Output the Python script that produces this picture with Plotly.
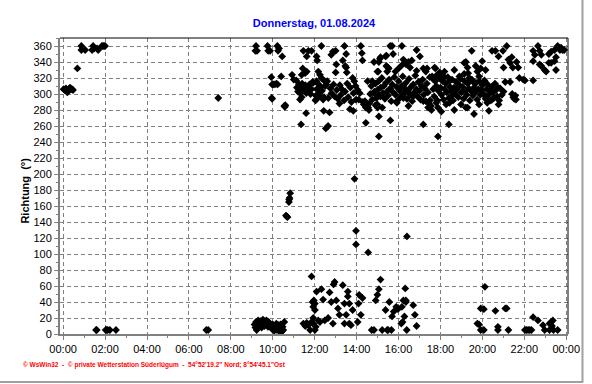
import pandas as pd
import plotly.graph_objects as go

DAY = pd.Timestamp("2024-08-01")
TITLE = "Donnerstag, 01.08.2024"
Y_LABEL = "Richtung\u00a0 (°)"
FOOTER = "© WsWin32\u00a0 -\u00a0 © private Wetterstation Süderlügum\u00a0 -\u00a0 54°52'19.2\" Nord; 8°54'45.1\"Ost"

# ---- data: time of day in decimal hours, wind direction in degrees ----
night_hours = [0.02, 0.08, 0.13, 0.17, 0.2, 0.25, 0.3, 0.33, 0.37, 0.42, 0.47, 0.68, 0.87, 0.87, 1.05,
               1.38, 1.43, 1.48, 1.62, 1.67, 1.85, 1.9, 1.95, 2.0, 1.57, 1.6, 2.03, 2.08, 2.13, 2.23,
               2.52, 6.83, 6.92, 7.4]
night_dirs = [306, 305, 307, 304, 302, 305, 307, 308, 306, 306, 305, 332, 360, 355, 355,
              355, 360, 357, 357, 355, 360, 360, 360, 360, 5, 5, 5, 5, 5, 5,
              5, 5, 5, 295]

calm_hours = [9.13, 9.17, 9.2, 9.23, 9.27, 9.3, 9.33, 9.37, 9.4, 9.43, 9.47, 9.5, 9.53, 9.57, 9.6,
              9.63, 9.67, 9.7, 9.73, 9.77, 9.8, 9.83, 9.87, 9.93, 9.97, 10.0, 10.03, 10.07, 10.1,
              10.13, 10.17, 10.2, 10.23, 10.27, 10.3, 10.33, 10.37, 10.4, 10.43, 10.47, 10.5, 10.55]
calm_dirs = [12, 8, 15, 5, 13, 17, 10, 14, 16, 12, 8, 15, 18, 13, 10,
             16, 14, 17, 12, 9, 15, 11, 13, 10, 6, 12, 8, 4, 10,
             7, 13, 5, 9, 11, 4, 8, 12, 6, 3, 9, 5, 15]

morning_hours = [9.17, 9.2, 9.25, 9.75, 9.78, 9.87, 10.22, 10.25, 10.3, 10.45, 9.97, 10.03, 10.1,
                 10.17, 10.23, 9.93, 9.95, 9.97, 10.4, 10.55, 10.58, 10.6, 10.63, 10.67, 10.7,
                 10.77, 10.78, 10.8, 10.83]
morning_dirs = [354, 360, 354, 360, 354, 354, 360, 354, 357, 347, 312, 312, 312,
                313, 312, 321, 295, 294, 322, 285, 284, 286, 148, 147, 146,
                165, 168, 170, 176]

scatter_hours = [10.92, 11.0, 11.12, 11.38, 11.43, 11.62, 11.46, 11.7, 11.85, 11.62, 11.54, 11.3, 11.38,
                 11.59, 11.35, 12.04, 12.09, 12.12, 12.32, 12.17, 12.25, 12.32, 12.09, 11.93, 12.06,
                 12.25, 12.4, 12.48, 12.56, 12.43, 12.71, 12.53, 12.64, 12.87, 13.0, 12.79, 13.03,
                 13.0, 13.34, 13.46, 13.53, 13.42, 13.5, 13.5, 13.18, 13.68, 13.84, 13.81, 13.89,
                 13.97, 14.2, 14.25, 14.28, 14.36, 14.44, 14.59, 14.44, 14.75, 14.83, 14.52, 14.83,
                 15.06, 15.06, 15.0, 14.9, 15.11, 15.14, 15.38, 15.6, 15.03, 15.5, 15.61, 15.69,
                 16.16, 15.74, 15.42, 15.06, 15.42, 15.53, 15.46, 14.99, 15.85, 16.0, 16.16, 16.23,
                 16.47, 16.36, 16.63, 16.55, 16.86, 17.02, 16.86, 17.18, 17.3, 17.36, 17.72, 17.8,
                 17.64, 17.49, 17.96, 18.04, 18.19, 18.43, 18.66, 18.9, 19.13, 19.21, 19.29, 19.37,
                 19.49, 14.91, 15.14, 14.99, 15.22, 15.92, 16.23, 16.47, 16.7, 17.18, 17.41, 17.57,
                 17.8, 17.88, 18.04, 18.27, 18.43, 18.66, 18.98, 19.21, 18.58, 17.18, 18.4, 17.88,
                 20.62, 20.77, 20.98, 21.16, 21.4, 21.63, 21.71, 21.32, 21.45, 21.01, 19.32, 19.45,
                 19.68, 19.76, 19.92, 19.99, 20.15, 19.84, 19.6, 20.85, 21.01, 20.93, 21.76, 21.95,
                 22.03, 22.42, 21.09, 21.32, 20.77, 20.23, 20.31, 19.29, 19.6, 19.84, 20.46, 20.46,
                 21.24, 18.19, 17.76, 19.13, 13.9, 13.97, 13.97, 14.55, 16.4]
scatter_dirs = [324, 318, 317, 324, 332, 328, 354, 354, 354, 347, 326, 293, 296,
                276, 262, 292, 347, 342, 360, 328, 324, 320, 316, 314, 293,
                297, 293, 316, 312, 279, 277, 257, 260, 353, 354, 349, 337,
                327, 342, 335, 327, 360, 350, 333, 288, 281, 279, 320, 316,
                293, 360, 351, 342, 287, 283, 280, 264, 316, 301, 316, 340,
                247, 272, 283, 286, 344, 346, 347, 360, 328, 333, 267, 360,
                360, 350, 348, 340, 335, 332, 328, 328, 328, 332, 336, 343,
                340, 337, 342, 333, 355, 347, 329, 332, 328, 332, 333, 323,
                319, 321, 327, 324, 321, 316, 330, 322, 325, 340, 333, 320,
                354, 301, 297, 287, 283, 289, 295, 285, 297, 291, 283, 280,
                289, 283, 278, 287, 289, 280, 287, 283, 299, 262, 262, 247,
                354, 347, 354, 360, 346, 340, 333, 339, 333, 333, 326, 318,
                335, 328, 332, 341, 330, 322, 314, 307, 303, 299, 320, 318,
                317, 317, 315, 315, 287, 289, 279, 283, 275, 287, 293, 354,
                343, 328, 332, 339, 194, 129, 112, 102, 122]

band_hours = [11.15, 11.2, 11.25, 11.3, 11.35, 11.4, 11.45, 11.5, 11.55, 11.6, 11.65, 11.7, 11.75, 11.8,
              11.85, 11.9, 12.05, 12.1, 12.15, 12.2, 12.3, 12.35, 12.45, 12.5, 12.6, 12.65, 12.75,
              12.8, 12.9, 12.95, 13.05, 13.1, 13.2, 13.25, 13.3, 13.4, 13.45, 13.55, 13.6, 13.7,
              13.75, 13.85, 13.95, 14.05, 14.1, 14.15, 14.3, 14.35, 14.4, 14.5, 14.55, 14.6, 14.65,
              14.7, 14.75, 14.85, 14.9, 14.95, 15.0, 15.05, 15.1, 15.15, 15.2, 15.25, 15.3, 15.35,
              15.4, 15.45, 15.5, 15.55, 15.6, 15.65, 15.7, 15.75, 15.8, 15.85, 15.9, 15.95, 16.0,
              16.05, 16.1, 16.15, 16.2, 16.25, 16.3, 16.35, 16.4, 16.45, 16.5, 16.55, 16.6, 16.65,
              16.7, 16.75, 16.8, 16.85, 16.9, 16.95, 17.0, 17.05, 17.1, 17.15, 17.2, 17.25, 17.3,
              17.35, 17.4, 17.45, 17.5, 17.55, 17.6, 17.65, 17.7, 17.75, 17.8, 17.85, 17.9, 17.95,
              18.0, 18.05, 18.1, 18.15, 18.2, 18.25, 18.3, 18.35, 18.4, 18.45, 18.5, 18.55, 18.6,
              18.65, 18.7, 18.75, 18.8, 18.85, 18.9, 18.95, 19.0, 19.05, 19.1, 19.15, 19.2, 19.25,
              19.3, 19.35, 19.4, 19.45, 19.5, 19.55, 19.6, 19.65, 19.7, 19.75, 19.8, 19.85, 19.9,
              19.95, 20.0, 20.05, 20.1, 20.15, 20.2, 20.25, 20.3, 20.35, 20.4, 20.45, 20.5, 20.55,
              20.6, 20.65, 20.7, 20.75, 20.8, 21.42, 21.47, 21.52, 21.57, 21.6]
band_dirs = [308, 303, 312, 301, 307, 313, 304, 306, 311, 301, 307, 304, 312, 300,
             306, 315, 298, 306, 313, 300, 309, 304, 296, 310, 316, 295, 307,
             301, 312, 297, 305, 294, 311, 299, 306, 292, 303, 313, 296, 308,
             290, 301, 310, 305, 293, 301, 290, 287, 291, 284, 283, 288, 300,
             310, 293, 303, 313, 295, 305, 316, 298, 308, 320, 301, 310, 294,
             314, 303, 298, 318, 307, 291, 312, 302, 321, 299, 309, 292, 316,
             304, 296, 310, 322, 300, 307, 314, 294, 304, 319, 299, 309, 291,
             312, 302, 323, 306, 297, 315, 304, 293, 310, 318, 299, 307, 291,
             313, 302, 288, 292, 285, 322, 306, 297, 316, 310, 292, 304, 320,
             308, 299, 316, 293, 306, 313, 302, 321, 295, 309, 304, 318, 292,
             308, 300, 315, 306, 296, 311, 319, 302, 309, 294, 316, 305, 299,
             313, 307, 292, 304, 318, 298, 308, 302, 314, 293, 306, 316, 299,
             305, 311, 300, 317, 294, 306, 312, 299, 304, 292, 309, 302, 295,
             313, 305, 297, 308, 292, 300, 296, 294, 298, 293]

late_hours = [22.42, 22.65, 22.73, 22.5, 22.81, 23.17, 23.28, 23.44, 23.59, 23.7, 23.83, 22.73, 22.81,
              23.04, 22.97, 23.17, 23.28, 23.44, 23.51, 23.51, 22.42, 23.9, 23.75]
late_dirs = [354, 360, 354, 349, 349, 350, 353, 355, 360, 355, 355, 337, 335,
             328, 330, 339, 339, 341, 346, 330, 341, 355, 358]

low_hours = [11.46, 11.62, 11.7, 11.78, 11.85, 12.01, 11.85, 11.93, 12.01, 11.93, 12.01, 11.9, 11.96,
             12.09, 12.17, 12.25, 12.32, 12.4, 12.48, 12.64, 12.71, 12.79, 12.87, 12.9, 12.95, 13.03,
             13.11, 13.18, 13.34, 13.42, 13.5, 13.58, 13.58, 13.65, 13.65, 13.42, 13.73, 13.81, 14.05,
             14.09, 14.12, 14.2, 14.28, 14.72, 14.83, 14.91, 14.99, 15.06, 15.14, 15.22, 15.46, 15.56,
             15.38, 15.77, 15.69, 11.93, 11.55, 11.65, 12.05, 15.66, 15.5, 15.89, 15.97, 16.16, 16.23,
             16.32, 16.35, 16.28, 16.19, 16.13, 16.39, 16.7, 16.78, 16.86, 16.35, 19.76, 19.84, 19.92,
             20.07, 19.92, 20.07, 20.12, 20.62, 20.74, 20.74, 21.09, 21.16, 21.24, 22.03, 22.18, 22.34,
             22.42, 22.65, 22.89, 22.97, 23.2, 23.28, 23.36, 23.39, 23.2, 23.59, 22.1, 22.26, 23.32]
low_dirs = [13, 14, 11, 5, 72, 5, 15, 20, 30, 34, 38, 40, 42,
            53, 17, 15, 56, 43, 17, 20, 52, 40, 13, 62, 65, 42,
            32, 24, 61, 38, 24, 47, 53, 38, 13, 13, 11, 30, 15,
            38, 49, 24, 45, 5, 5, 42, 49, 56, 68, 5, 5, 40,
            30, 28, 22, 13, 10, 12, 9, 5, 5, 34, 31, 34, 42,
            57, 40, 22, 15, 13, 5, 36, 24, 10, 42, 13, 12, 5,
            5, 32, 31, 59, 29, 9, 5, 32, 32, 5, 5, 5, 5,
            21, 17, 11, 5, 13, 15, 17, 5, 5, 5, 5, 5, 10]

all_hours = night_hours + calm_hours + morning_hours + scatter_hours + band_hours + late_hours + low_hours
all_dirs = night_dirs + calm_dirs + morning_dirs + scatter_dirs + band_dirs + late_dirs + low_dirs
times = [DAY + pd.Timedelta(hours=h) for h in all_hours]

fig = go.Figure()
fig.add_trace(go.Scatter(
    x=times, y=all_dirs, mode="markers",
    marker=dict(symbol="diamond", size=6, color="black", line=dict(width=0)),
    cliponaxis=False, showlegend=False, hoverinfo="skip"))

grid = dict(showgrid=True, gridcolor="#808080", gridwidth=1, griddash="4px,3px",
            showline=True, linecolor="#808080", linewidth=2, zeroline=False,
            ticks="outside", tickcolor="#808080", ticklen=4,
            tickfont=dict(family="Liberation Sans, Arial, sans-serif", size=11, color="black"))

fig.update_xaxes(type="date",
                 range=[DAY - pd.Timedelta(minutes=9), DAY + pd.Timedelta(hours=24, minutes=5)],
                 tick0=DAY, dtick=7200000, tickformat="%H:%M",
                 minor=dict(dtick=3600000, ticks="outside", ticklen=2, tickcolor="#808080", showgrid=False),
                 **grid)
fig.update_yaxes(range=[0, 370], tick0=0, dtick=20,
                 minor=dict(dtick=10, ticks="outside", ticklen=2, tickcolor="#808080", showgrid=False),
                 **grid)

fig.update_layout(
    width=592, height=384,
    margin=dict(l=60, r=18, t=38, b=50),
    paper_bgcolor="white", plot_bgcolor="white",
    title=dict(text="<b>" + TITLE + "</b>", x=0.5, xref="paper", xanchor="center",
               y=1 - 23 / 384, yref="container", yanchor="middle",
               font=dict(family="Liberation Sans, Arial, sans-serif", size=11, color="#0000FF")),
    shapes=[
        dict(type="line", xref="paper", yref="paper", x0=0, x1=1, y0=1, y1=1,
             line=dict(color="black", width=1)),
        dict(type="line", xref="paper", yref="paper", x0=1, x1=1, y0=0, y1=1,
             line=dict(color="black", width=1)),
        dict(type="line", xref="paper", yref="paper", x0=-0.12, x1=1.03, y0=-0.162, y1=-0.162,
             line=dict(color="#a0a0a0", width=2)),
        dict(type="line", xref="paper", yref="paper", x0=1.0285, x1=1.0285, y0=-0.162, y1=1.13,
             line=dict(color="#a0a0a0", width=2)),
    ],
    annotations=[
        dict(text="<b>" + Y_LABEL + "</b>", textangle=-90, xref="paper", yref="paper",
             x=-0.068, y=0.486, xanchor="center", yanchor="middle", showarrow=False,
             font=dict(family="Liberation Sans, Arial, sans-serif", size=11, color="black")),
        dict(text="<b>" + FOOTER + "</b>", xref="paper", yref="paper",
             x=-0.0777, y=-0.1047, xanchor="left", yanchor="middle", showarrow=False,
             font=dict(family="Liberation Sans, Arial, sans-serif", size=6.5, color="#FF0000")),
    ],
)

fig.write_html("out.html", config={"displayModeBar": False},
               post_script="document.body.style.margin='0';")
